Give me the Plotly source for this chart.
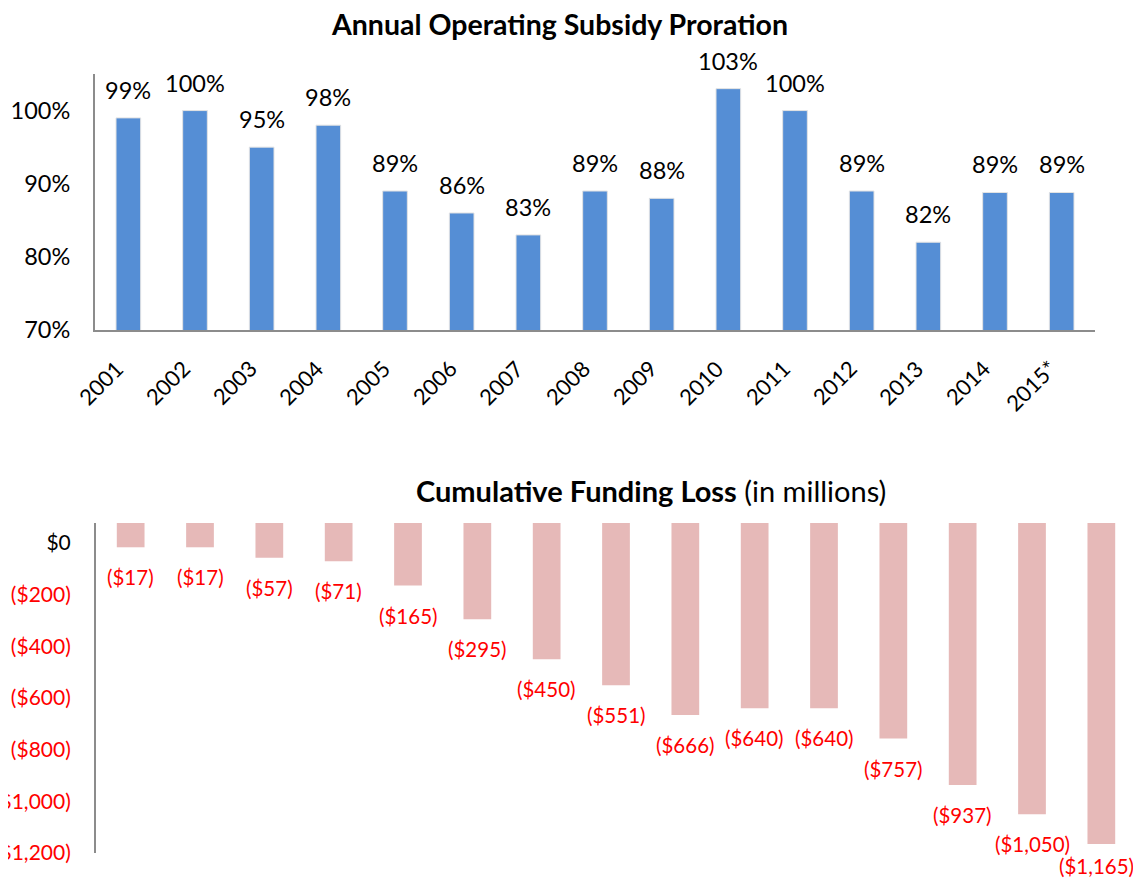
import plotly.graph_objects as go

# ---- data ----
years = ["2001", "2002", "2003", "2004", "2005", "2006", "2007", "2008",
         "2009", "2010", "2011", "2012", "2013", "2014", "2015*"]
proration_pct = [99, 100, 95, 98, 89, 86, 83, 89, 88, 103, 100, 89, 82, 88.8, 88.8]
cumulative_loss = [-17, -17, -57, -71, -165, -295, -450, -551, -666, -640,
                   -640, -757, -937, -1050, -1165]
top_ticks = [70, 80, 90, 100]
top_ticktext = ["70%", "80%", "90%", "100%"]
bottom_ticks = [0, -200, -400, -600, -800, -1000, -1200]

FONT = "Lato"
BLUE = "#558ED5"
PINK = "#E6B9B8"
RED = "#FF0000"
AXIS_GRAY = "#8C8C8C"
LOSS_TOP = 77    # top of lower plot (bars hang from it)
TOP_MIN = 70     # bottom of upper plot

# the page body adds an 8px margin, so the figure is 8px smaller than the window
OFF = 8
W, H = 1141 - OFF, 878 - OFF


def px_x(x):
    return (x - OFF) / W


def px_y(y):
    return 1 - (y - OFF) / H


def money(v):
    if v == 0:
        return "$0"
    return "(${:,.0f})".format(abs(v))


bottom_ticktext = [
    money(v) if v == 0 else '<span style="color:%s">%s</span>' % (RED, money(v))
    for v in bottom_ticks
]

fig = go.Figure()

fig.add_trace(go.Bar(
    x=years, y=proration_pct,
    marker=dict(color=BLUE, line=dict(width=1, color="#E3E3E3")),
    width=0.37, xaxis="x", yaxis="y", showlegend=False, hoverinfo="skip",
))

fig.add_trace(go.Bar(
    x=years, y=[v - LOSS_TOP for v in cumulative_loss], base=LOSS_TOP,
    marker=dict(color=PINK, line=dict(width=0)),
    width=0.40, xaxis="x2", yaxis="y2", showlegend=False, hoverinfo="skip",
))

annotations = []
# value labels above the blue bars
for i, v in enumerate(proration_pct):
    annotations.append(dict(
        x=i, y=v, xref="x", yref="y", text="%d%%" % round(v), showarrow=False,
        yanchor="bottom", yshift=12, font=dict(family=FONT, size=23.5, color="black"),
    ))
# rotated category labels under the upper plot
for i, yr in enumerate(years):
    annotations.append(dict(
        x=i, y=TOP_MIN, xref="x", yref="y", text=yr, showarrow=False,
        textangle=-45, xanchor="right", yanchor="top", xshift=3, yshift=-22,
        font=dict(family=FONT, size=22, color="black"),
    ))
# value labels below the pink bars
last = len(cumulative_loss) - 1
for i, v in enumerate(cumulative_loss):
    annotations.append(dict(
        x=i, y=v, xref="x2", yref="y2", text=money(v), showarrow=False,
        yanchor="top", yshift=(-8 if i == last else -16), xshift=(-5 if i == last else 0),
        font=dict(family=FONT, size=20.5, color=RED),
    ))

annotations.append(dict(
    x=px_x(559), y=px_y(24), xref="paper", yref="paper", showarrow=False,
    text="<b>Annual Operating Subsidy Proration</b>",
    font=dict(family=FONT, size=28.5, color="black"), xanchor="center", yanchor="middle",
))
annotations.append(dict(
    x=px_x(651), y=px_y(490), xref="paper", yref="paper", showarrow=False,
    text="<b>Cumulative Funding Loss</b> (in millions)",
    font=dict(family=FONT, size=29, color="black"), xanchor="center", yanchor="middle",
))

n = len(years)
fig.update_layout(
    width=W, height=H,
    margin=dict(l=0, r=0, t=0, b=0, autoexpand=False),
    paper_bgcolor="white", plot_bgcolor="white",
    font=dict(family=FONT, color="black"),
    xaxis=dict(
        type="category", automargin=False, range=[-0.5, n - 0.5],
        domain=[px_x(95), px_x(1095)], anchor="y", showgrid=False, zeroline=False,
        showline=True, linecolor=AXIS_GRAY, linewidth=2, ticks="",
        showticklabels=False,
    ),
    yaxis=dict(
        automargin=False,
        domain=[px_y(330), px_y(74)], anchor="x", range=[TOP_MIN, 105],
        showgrid=False, zeroline=False, showline=True, linecolor=AXIS_GRAY,
        linewidth=2, ticks="", tickvals=top_ticks, ticktext=top_ticktext,
        tickfont=dict(family=FONT, size=23.5, color="black"), ticklabelstandoff=18,
    ),
    xaxis2=dict(
        type="category", automargin=False, range=[-0.5, n - 0.5],
        domain=[px_x(96), px_x(1136)], anchor="y2", showgrid=False, zeroline=False,
        showline=False, showticklabels=False, ticks="",
    ),
    yaxis2=dict(
        automargin=False,
        domain=[px_y(853), px_y(523)], anchor="x2", range=[-1200, LOSS_TOP],
        showgrid=False, zeroline=False, showline=True, linecolor=AXIS_GRAY,
        linewidth=2, ticks="", tickvals=bottom_ticks, ticktext=bottom_ticktext,
        tickfont=dict(family=FONT, size=21, color="black"), ticklabelstandoff=19,
    ),
    annotations=annotations,
)

fig.write_html("out.html")
